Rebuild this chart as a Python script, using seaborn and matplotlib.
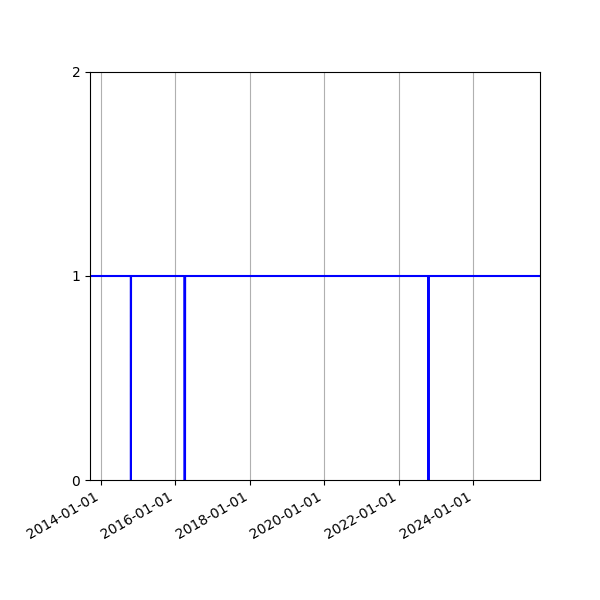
import matplotlib
matplotlib.use("Agg")
import matplotlib.pyplot as plt
import matplotlib.dates as mdates
import seaborn as sns
import pandas as pd

dates = [
    "2013-09-19",
    "2014-10-24", "2014-10-25", "2014-10-26",
    "2016-03-31", "2016-04-01", "2016-04-07", "2016-04-08",
    "2022-10-17", "2022-10-18", "2022-10-19",
    "2025-10-15",
]
values = [1, 1, 0, 1, 1, 0, 0, 1, 1, 0, 1, 1]

df = pd.DataFrame({"date": pd.to_datetime(dates), "value": values})

fig = plt.figure(figsize=(6, 6), dpi=100)
ax = fig.add_axes([0.15, 0.2, 0.75, 0.68])
sns.lineplot(data=df, x="date", y="value", color="blue", linewidth=1.5, ax=ax)

ax.set_xlim(df["date"].min(), df["date"].max())
ax.set_ylim(0, 2)
ax.set_yticks([0, 1, 2])
ax.xaxis.set_major_locator(mdates.YearLocator(2))
ax.xaxis.set_major_formatter(mdates.DateFormatter("%Y-%m-%d"))
ax.grid(axis="x")
ax.set_xlabel("")
ax.set_ylabel("")
for lbl in ax.get_xticklabels():
    lbl.set_rotation(30)
    lbl.set_ha("right")

fig.savefig("out.png", dpi=100)
